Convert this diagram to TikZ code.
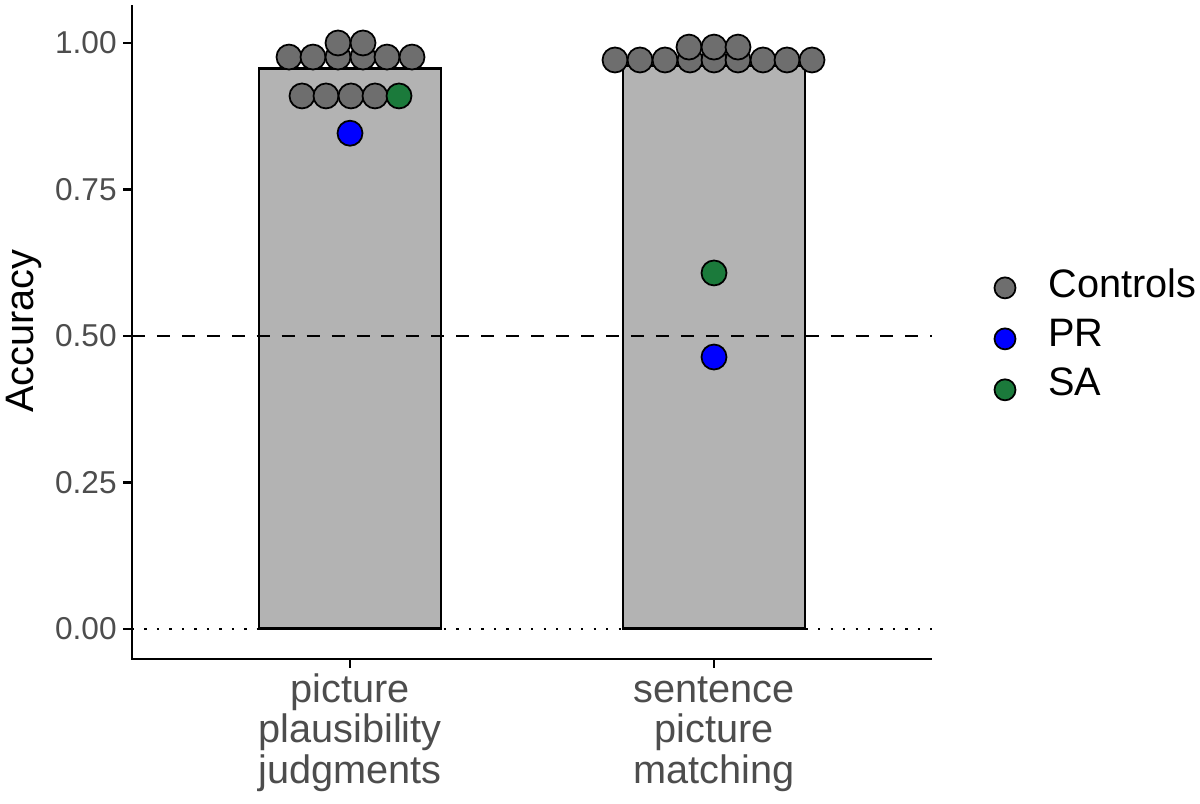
\documentclass[tikz,border=0pt]{standalone}
\usepackage{fontspec}
\setmainfont{Liberation Sans}

\definecolor{barfill}{HTML}{B3B3B3}
\definecolor{ctrlgray}{HTML}{6E6E6E}
\definecolor{prblue}{HTML}{0000FF}
\definecolor{sagreen}{HTML}{1B7A3B}
\definecolor{axistext}{HTML}{4D4D4D}

\begin{document}
\begin{tikzpicture}[x=0.02cm, y=11.72cm,
    ctrl/.style={draw=black, line width=1pt, fill=ctrlgray},
    pr/.style={draw=black, line width=1pt, fill=prblue},
    sa/.style={draw=black, line width=1pt, fill=sagreen},
    bar/.style={draw=black, line width=1.6pt, fill=barfill},
    ticklab/.style={anchor=east, inner sep=0pt, text=axistext, font=\fontsize{18}{20}\selectfont},
    catlab/.style={anchor=base, inner sep=0pt, align=center, text=axistext, font=\fontsize{22.6}{23.25}\selectfont},
    leglab/.style={anchor=base west, inner sep=0pt, font=\fontsize{22.6}{26}\selectfont}]
    \useasboundingbox (0,-0.29863) rectangle (1200,1.07338);

    % Zero line and bars
    \draw[line width=1.3pt, dash pattern=on 1.3pt off 5.8pt] (132,0) -- (932,0);
    \draw[bar] (259,0) rectangle (441,0.957);
    \draw[bar] (623,0) rectangle (805,0.962);

    % Chance level
    \draw[line width=1.4pt, dash pattern=on 7.4pt off 6.8pt] (132,0.5) -- (932,0.5);

    % Axes, ticks and labels
    \draw[line width=1.4pt] (132,1.0648) -- (132,-0.0512) -- (932,-0.0512);
    \foreach \v/\lab/\nm in {0/0.00/tick000, 0.25/0.25/tick025, 0.5/0.50/tick050, 0.75/0.75/tick075, 1/1.00/tick100} {
        \draw[line width=1.4pt] (123,\v) -- (132,\v);
        \node[ticklab] (\nm) at (117,\v) {\lab};
    }
    \node[rotate=90, anchor=base, inner sep=0pt, font=\fontsize{22.6}{26}\selectfont] (ylab) at (33,0.5085) {Accuracy};
    \draw[line width=1.4pt] (350,-0.0512) -- (350,-0.0665);
    \draw[line width=1.4pt] (714,-0.0512) -- (714,-0.0665);
    \node[catlab] (cat1) at (350,-0.2645) {picture\\plausibility\\judgments};
    \node[catlab] (cat2) at (714,-0.2645) {sentence\\picture\\matching};

    % Picture plausibility judgments
    \foreach \x in {289,313,338,363,387,412} \draw[ctrl] (\x,0.976) circle[radius=0.25cm];
    \foreach \x in {338,363} \draw[ctrl] (\x,1.0) circle[radius=0.25cm];
    \foreach \x in {302,326,351,375} \draw[ctrl] (\x,0.9096) circle[radius=0.25cm];
    \draw[sa] (399,0.9096) circle[radius=0.25cm];
    \draw[pr] (350,0.846) circle[radius=0.25cm];

    % Sentence picture matching
    \foreach \x in {615,640,665,690,714,738,763,787,812} \draw[ctrl] (\x,0.971) circle[radius=0.25cm];
    \foreach \x in {689,714,738} \draw[ctrl] (\x,0.993) circle[radius=0.25cm];
    \draw[sa] (714,0.6075) circle[radius=0.25cm];
    \draw[pr] (714,0.464) circle[radius=0.25cm];

    % Legend
    \draw[ctrl] (1005,0.582) circle[radius=0.21cm];
    \draw[pr] (1005,0.495) circle[radius=0.21cm];
    \draw[sa] (1005,0.408) circle[radius=0.21cm];
    \node[leglab] (legctrl) at (1048,0.5648) {Controls};
    \node[leglab] (legpr) at (1048,0.4812) {PR};
    \node[leglab] (legsa) at (1048,0.3976) {SA};
\end{tikzpicture}
\end{document}
